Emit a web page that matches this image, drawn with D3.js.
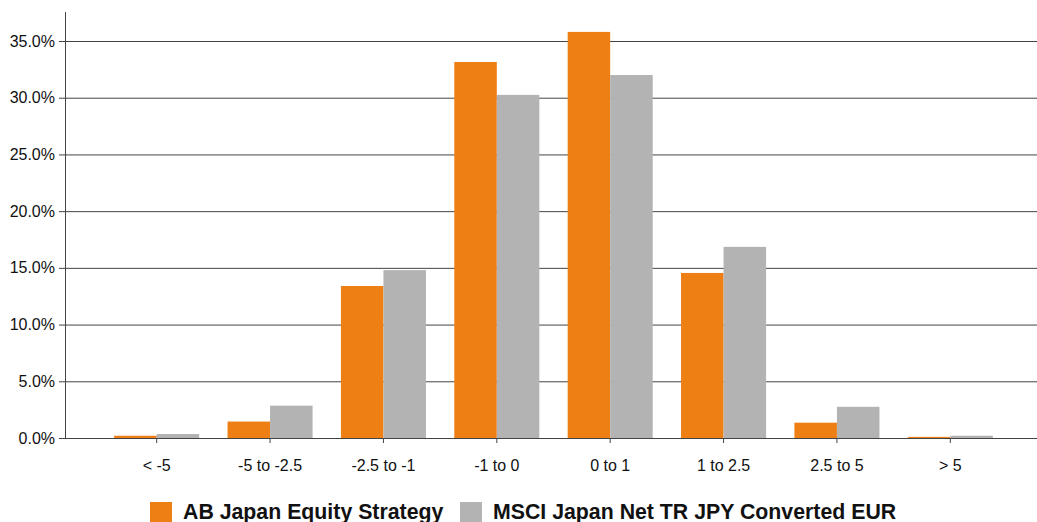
<!DOCTYPE html>
<html>
<head>
<meta charset="utf-8">
<script src="https://cdn.jsdelivr.net/npm/d3@7"></script>
<style>
  body { margin: 0; background: #fff; }
  text { font-family: "Liberation Sans", Arial, sans-serif; }
</style>
</head>
<body>
<div id="chart"></div>
<script>
const categories = ["< -5", "-5 to -2.5", "-2.5 to -1", "-1 to 0", "0 to 1", "1 to 2.5", "2.5 to 5", "> 5"];
const seriesNames = ["AB Japan Equity Strategy", "MSCI Japan Net TR JPY Converted EUR"];
const fundValues = [0.2, 1.45, 13.4, 33.15, 35.8, 14.55, 1.35, 0.1];
const indexValues = [0.35, 2.85, 14.8, 30.25, 32.0, 16.85, 2.75, 0.2];
const yTicks = [0, 5, 10, 15, 20, 25, 30, 35];
const colors = ["#ee7f14", "#b3b3b3"];

const width = 1037, height = 522;
const axisX = 65, baseY = 438, topY = 12;

const data = categories.map((c, i) => ({ cat: c, values: [fundValues[i], indexValues[i]] }));

const svg = d3.select("#chart").append("svg")
    .attr("width", width)
    .attr("height", height);

const xScale = d3.scaleBand()
    .domain(categories)
    .range([100, 1007])
    .paddingInner(0.25)
    .paddingOuter(0.125);

const x1 = d3.scaleBand()
    .domain([0, 1])
    .range([0, xScale.bandwidth()]);

const yScale = d3.scaleLinear()
    .domain([0, 35])
    .range([baseY, 41]);

// gridlines
svg.append("g")
    .selectAll("line")
    .data(yTicks.slice(1))
    .join("line")
        .attr("x1", axisX)
        .attr("x2", width)
        .attr("y1", d => yScale(d) + 0.5)
        .attr("y2", d => yScale(d) + 0.5)
        .attr("stroke", "#444")
        .attr("stroke-width", 1);

// bars
svg.append("g")
    .selectAll("g")
    .data(data)
    .join("g")
        .attr("transform", d => `translate(${xScale(d.cat)},0)`)
    .selectAll("rect")
    .data(d => d.values.map((v, k) => ({ k, v })))
    .join("rect")
        .attr("x", d => x1(d.k))
        .attr("width", x1.bandwidth())
        .attr("y", d => yScale(d.v))
        .attr("height", d => baseY - yScale(d.v))
        .attr("fill", d => colors[d.k]);

// y axis
const yAxis = svg.append("g")
    .attr("transform", `translate(${axisX},0)`)
    .call(d3.axisLeft(yScale)
        .tickValues(yTicks)
        .tickFormat(d => d3.format(".1f")(d) + "%")
        .tickSize(6)
        .tickSizeOuter(0));
yAxis.select(".domain").remove();
yAxis.append("line")
    .attr("x1", 0.5).attr("x2", 0.5)
    .attr("y1", topY).attr("y2", baseY)
    .attr("stroke", "#444");
yAxis.selectAll(".tick line").attr("stroke", "#444");
yAxis.selectAll(".tick text")
    .attr("font-size", 16)
    .attr("fill", "#111")
    .attr("x", -10)
    .style("font-family", "Liberation Sans, Arial, sans-serif");

// x axis
const xAxis = svg.append("g")
    .attr("transform", `translate(0,${baseY})`)
    .call(d3.axisBottom(xScale).tickSize(5).tickSizeOuter(0).tickPadding(17));
xAxis.select(".domain")
    .attr("d", `M${axisX},0.5H${width}`)
    .attr("stroke", "#444");
xAxis.selectAll(".tick line").attr("stroke", "#444");
xAxis.selectAll(".tick text")
    .attr("font-size", 16)
    .attr("fill", "#111")
    .style("font-family", "Liberation Sans, Arial, sans-serif");

// legend (cut off at the bottom edge, as in the original)
const legendX = [150, 460];
const legend = svg.append("g")
    .selectAll("g")
    .data(seriesNames)
    .join("g")
        .attr("transform", (d, i) => `translate(${legendX[i]},502)`);
legend.append("rect")
    .attr("width", 22)
    .attr("height", 22)
    .attr("fill", (d, i) => colors[i]);
legend.append("text")
    .attr("x", 33)
    .attr("y", 17)
    .attr("font-size", 21.3)
    .attr("font-weight", "bold")
    .attr("fill", "#111")
    .text(d => d);
</script>
</body>
</html>
